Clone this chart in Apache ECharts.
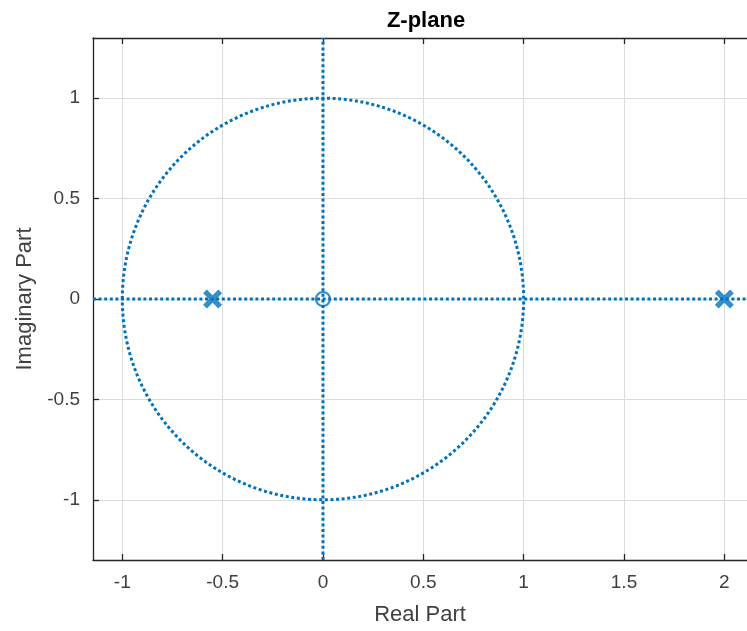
<!DOCTYPE html>
<html>
<head>
<meta charset="utf-8">
<script src="https://cdn.jsdelivr.net/npm/echarts@6/dist/echarts.min.js"></script>
<style>html,body{margin:0;padding:0;background:#fff}#c{width:747px;height:631px}</style>
</head>
<body>
<div id="c"></div>
<script>
// Data
const xTicks = [-1, -0.5, 0, 0.5, 1, 1.5, 2];
const yTicks = [-1, -0.5, 0, 0.5, 1];
const xRange = [-1.146, 2.113];
const yRange = [-1.3, 1.3];
const zeros = [[0, 0]];
const poles = [[-0.55, 0], [2, 0]];
const unitCircle = [[0, 0, 1]]; // center x, center y, radius
const realAxisLine = [[-1.146, 0], [2.113, 0]];
const imagAxisLine = [[0, -1.3], [0, 1.3]];

const blue = '#0072BD';
const font = 'Liberation Sans, Arial, Helvetica, sans-serif';
const dotted = [3, 2.6];
const lw = 3;
const xPath = 'path://M0,4 L4,0 L10,6 L16,0 L20,4 L14,10 L20,16 L16,20 L10,14 L4,20 L0,16 L6,10 Z';

const chart = echarts.init(document.getElementById('c'), null, {renderer: 'canvas'});
const axisBase = (pos, ticks, showLabel) => ({
  type: 'value', position: pos,
  axisLine: {show: true, onZero: false, lineStyle: {color: '#262626', width: 1.3}},
  axisTick: {show: true, inside: true, length: 6, customValues: ticks, lineStyle: {color: '#262626', width: 1.3}},
  axisLabel: {show: showLabel, customValues: ticks, color: '#404040', fontSize: 19, fontFamily: font,
    formatter: v => String(v)},
  splitLine: {show: false}
});
const xAxisMain = Object.assign(axisBase('bottom', xTicks, true), {
  min: xRange[0], max: xRange[1],
  name: 'Real Part', nameLocation: 'middle', nameGap: 44,
  nameTextStyle: {color: '#404040', fontSize: 22, fontFamily: font},
  splitLine: {show: true, lineStyle: {color: '#dcdcdc', width: 1}}
});
xAxisMain.axisLabel.margin = 13;
const xAxisTop = Object.assign(axisBase('top', xTicks, false), {min: xRange[0], max: xRange[1]});
const yAxisMain = Object.assign(axisBase('left', yTicks, true), {
  min: yRange[0], max: yRange[1],
  name: 'Imaginary Part', nameLocation: 'middle', nameGap: 49, nameRotate: 90,
  nameTextStyle: {color: '#404040', fontSize: 22, fontFamily: font},
  splitLine: {show: true, lineStyle: {color: '#dcdcdc', width: 1}}
});
yAxisMain.axisLabel.margin = 13;

chart.setOption({
  animation: false,
  title: {text: 'Z-plane', left: 421, top: 5, textAlign: 'center',
    textStyle: {fontFamily: font, fontSize: 22, fontWeight: 'bold', color: '#000'}},
  grid: {left: 93, top: 38, bottom: 71, right: 0, containLabel: false},
  xAxis: [xAxisMain, xAxisTop],
  yAxis: [yAxisMain],
  series: [
    {type: 'custom', data: unitCircle, coordinateSystem: 'cartesian2d', silent: true, z: 3,
      renderItem: (params, api) => {
        const c = api.coord([api.value(0), api.value(1)]);
        const s = api.size([api.value(2), api.value(2)]);
        return {type: 'ellipse', shape: {cx: c[0], cy: c[1], rx: s[0], ry: s[1]},
          style: {fill: null, stroke: blue, lineWidth: lw, lineDash: dotted}};
      }},
    {type: 'line', data: realAxisLine, showSymbol: false, silent: true, z: 3,
      lineStyle: {color: blue, width: lw, type: dotted}},
    {type: 'line', data: imagAxisLine, showSymbol: false, silent: true, z: 3,
      lineStyle: {color: blue, width: lw, type: dotted}},
    {type: 'scatter', data: zeros, symbol: 'circle', symbolSize: 14, z: 4,
      itemStyle: {color: 'rgba(255,255,255,0)', borderColor: blue, borderWidth: 2.2}},
    {type: 'scatter', data: poles, symbol: xPath, symbolSize: 19, z: 4,
      itemStyle: {color: blue}}
  ]
});
</script>
</body>
</html>
